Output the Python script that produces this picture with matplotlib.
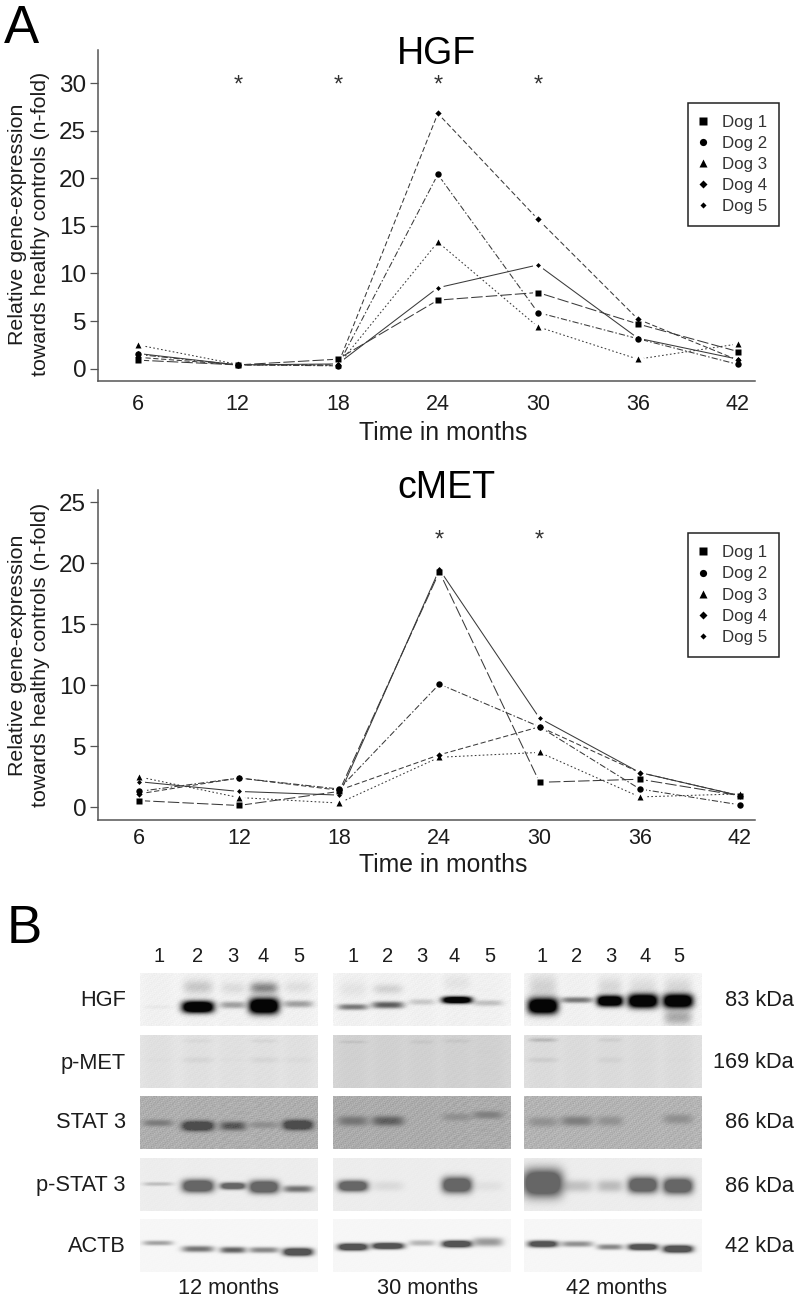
import numpy as np
import matplotlib
matplotlib.use("Agg")
import matplotlib.pyplot as plt
from matplotlib.lines import Line2D

W, H = 799, 1304
plt.rcParams['font.family'] = ['Liberation Sans', 'DejaVu Sans']

months = [6, 12, 18, 24, 30, 36, 42]
dogs = ["Dog 1", "Dog 2", "Dog 3", "Dog 4", "Dog 5"]

hgf_dog1 = [0.9, 0.4, 1.0, 7.2, 8.0, 4.7, 1.8]
hgf_dog2 = [1.5, 0.4, 0.3, 20.4, 5.9, 3.15, 0.45]
hgf_dog3 = [2.5, 0.45, 0.35, 13.3, 4.4, 1.0, 2.6]
hgf_dog4 = [1.2, 0.4, 0.4, 26.8, 15.7, 5.2, 0.9]
hgf_dog5 = [1.6, 0.4, 0.5, 8.5, 10.9, 3.2, 1.0]
hgf_stars = [12, 18, 24, 30]

met_dog1 = [0.55, 0.15, 1.3, 19.3, 2.05, 2.3, 0.95]
met_dog2 = [1.3, 2.4, 1.5, 10.1, 6.6, 1.5, 0.2]
met_dog3 = [2.5, 0.8, 0.35, 4.1, 4.5, 0.85, 1.1]
met_dog4 = [1.1, 2.4, 1.4, 4.3, 6.6, 2.85, 0.95]
met_dog5 = [2.1, 1.3, 1.0, 19.5, 7.3, 2.85, 0.95]
met_stars = [24, 30]

styles = [
    dict(marker='s', ms=5.0, ls=(0, (11, 3))),
    dict(marker='o', ms=4.6, ls=(0, (6, 2, 1.5, 2))),
    dict(marker='^', ms=5.0, ls=(0, (1.6, 2.2))),
    dict(marker='D', ms=3.2, ls=(0, (5, 2.5))),
    dict(marker='D', ms=2.5, ls='-'),
]

fig = plt.figure(figsize=(W / 100, H / 100), dpi=100)


def rect(l, t, r, b):
    return [l / W, 1 - b / H, (r - l) / W, (b - t) / H]


def txt(x, y, s, **kw):
    kw.setdefault('color', '#1c1c1c')
    return fig.text(x / W, 1 - y / H, s, **kw)


def line_panel(series, stars, star_y, l, t, r, b, x6, x42, y0, ppu, yticks,
               title, title_x, title_base, legend_top, legend_pad, label_cy, xtick_y, xlabel_y):
    ax = fig.add_axes(rect(l, t, r, b))
    ppx = (x42 - x6) / 36
    ax.set_xlim(6 - (x6 - l) / ppx, 42 + (r - x42) / ppx)
    ax.set_ylim(-(b - y0) / ppu, (y0 - t) / ppu)
    for vals, st in zip(series, styles):
        ax.plot(months, vals, color='#3a3a3a', lw=0.75, ls=st['ls'], zorder=2)
    for vals in series:
        ax.plot(months, vals, ls='none', marker='o', ms=8.0, mfc='white', mec='none', zorder=3)
    for vals, st in zip(series, styles):
        ax.plot(months, vals, ls='none', marker=st['marker'], ms=st['ms'], color='black', mec='none', zorder=4)
    for m in stars:
        ax.text(m, star_y, '*', ha='center', va='center', fontsize=17, color='#333333')
    for s in ('top', 'right'):
        ax.spines[s].set_visible(False)
    for s in ('left', 'bottom'):
        ax.spines[s].set_color('#555555')
        ax.spines[s].set_linewidth(1.1)
    ax.set_yticks(yticks)
    ax.set_xticks(months)
    ax.tick_params(axis='y', length=5.5, width=0.9, color='#555555', labelsize=17.5, pad=3, labelcolor='#1c1c1c')
    ax.tick_params(axis='x', length=0, labelbottom=False)
    for m in months:
        px = x6 + (m - 6) * ppx
        txt(px, xtick_y, str(m), fontsize=15.5, ha='center', va='center')
    txt((l + r) / 2 + 17, xlabel_y, 'Time in months', fontsize=17.8, ha='center', va='center')
    txt(title_x, title_base, title, fontsize=27, ha='center', va='baseline', color='black')
    txt(29, label_cy, 'Relative gene-expression\ntowards healthy controls (n-fold)', fontsize=15.4,
        rotation=90, ha='center', va='center', multialignment='center', linespacing=1.27)
    handles = [Line2D([], [], ls='none', marker=st['marker'], ms=st['ms'] + 0.6, color='black', mec='none')
               for st in styles]
    leg = fig.legend(handles, dogs, loc='upper left', bbox_to_anchor=(688 / W, 1 - legend_top / H),
                     fontsize=12.2, frameon=True, fancybox=False, framealpha=1, edgecolor='#222222',
                     labelspacing=legend_pad, borderpad=0.72, handlelength=0.33, handletextpad=0.95, borderaxespad=0)
    leg.get_frame().set_linewidth(1.1)
    for t_ in leg.get_texts():
        t_.set_color('#333333')
    return ax


line_panel([hgf_dog1, hgf_dog2, hgf_dog3, hgf_dog4, hgf_dog5], hgf_stars, 29.75,
           98, 50, 755, 381, 137.7, 738, 368.7, 9.523, [0, 5, 10, 15, 20, 25, 30],
           'HGF', 437, 64, 103, 0.35, 224, 404, 433)
line_panel([met_dog1, met_dog2, met_dog3, met_dog4, met_dog5], met_stars, 21.9,
           98, 490, 755, 820, 138.7, 740, 807.3, 12.2, [0, 5, 10, 15, 20, 25],
           'cMET', 446, 498, 533, 0.37, 655, 839, 865)

txt(4, 43, 'A', fontsize=38, ha='left', va='baseline', color='black')
txt(7, 943, 'B', fontsize=38, ha='left', va='baseline', color='black')

# ---- western blot panel ----
proteins = ["HGF", "p-MET", "STAT 3", "p-STAT 3", "ACTB"]
weights = ["83 kDa", "169 kDa", "86 kDa", "86 kDa", "42 kDa"]
timepoints = ["12 months", "30 months", "42 months"]
lanes = ["1", "2", "3", "4", "5"]

# band strength per protein, per time panel, per lane
band_hgf = [[0.03, 1.0, 0.3, 1.0, 0.3], [0.45, 0.55, 0.15, 0.95, 0.18], [1.0, 0.45, 1.0, 1.0, 1.0]]
band_pmet = [[0.05, 0.22, 0.07, 0.22, 0.12], [0.03, 0.0, 0.0, 0.0, 0.0], [0.35, 0.0, 0.22, 0.03, 0.04]]
band_stat = [[0.45, 1.0, 0.8, 0.28, 1.0], [0.5, 0.7, 0.0, 0.25, 0.4], [0.28, 0.45, 0.28, 0.0, 0.3]]
band_pstat = [[0.3, 1.0, 0.9, 1.0, 0.8], [1.0, 0.12, 0.0, 1.0, 0.08], [1.0, 0.28, 0.32, 1.0, 1.0]]
band_actb = [[0.45, 0.7, 0.8, 0.6, 1.0], [1.0, 1.0, 0.35, 1.0, 0.5], [0.9, 0.55, 0.6, 0.95, 1.0]]
bands = [band_hgf, band_pmet, band_stat, band_pstat, band_actb]

# band half thickness (px) per protein, per time panel, per lane
thick = [
    [[2, 6, 3.5, 8, 3.5], [3, 3.5, 3, 3.5, 3], [8, 3, 5.5, 7, 7]],
    [[2, 3, 2, 3, 3], [2, 2, 2, 2, 2], [2.5, 2, 3, 2, 2]],
    [[3.5, 5, 4.5, 3.5, 5], [5, 5, 3, 4, 4], [5, 5, 5, 3, 5]],
    [[2, 6.5, 3.5, 6.5, 3.5], [5.5, 5, 2, 8, 5], [14, 6, 6, 8, 8]],
    [[2.5, 3.2, 3.2, 3, 4], [3.6, 3.2, 3, 3.5, 4.5], [3.4, 3, 2.9, 3.3, 3.8]],
]
# band centre below the top of the row (px) per protein, per time panel, per lane
centre = [
    [[34, 34, 32, 33, 31], [34, 32, 29, 27, 30], [33, 27, 28, 28, 28]],
    [[25, 25, 25, 25, 25], [25, 25, 25, 25, 25], [25, 25, 25, 25, 25]],
    [[27, 30, 30, 29, 29], [25, 25, 25, 21, 19], [26, 25, 25, 25, 23]],
    [[26, 28, 28, 29, 31], [28, 28, 28, 27, 28], [25, 28, 28, 27, 28]],
    [[24, 30, 31, 31, 33], [28, 27, 24, 25, 23], [25, 25, 28, 28, 30]],
]
# faint extra smears: protein, time panel, lane, centre, half height, strength
smears = [
    (0, 0, 1, 14, 7, 0.16), (0, 0, 2, 15, 6, 0.08), (0, 0, 3, 15, 6, 0.42), (0, 0, 4, 14, 6, 0.07),
    (0, 1, 1, 16, 5, 0.12), (0, 1, 0, 16, 8, 0.05), (0, 1, 3, 10, 8, 0.05),
    (0, 2, 0, 14, 12, 0.12), (0, 2, 2, 14, 9, 0.10), (0, 2, 3, 14, 9, 0.08), (0, 2, 4, 44, 8, 0.28), (0, 2, 4, 14, 9, 0.10),
    (1, 1, 0, 7, 1.5, 0.06), (1, 1, 2, 7, 2, 0.04), (1, 1, 3, 6, 2, 0.04),
    (1, 2, 0, 5, 2, 0.14), (1, 2, 2, 5, 2, 0.05), (1, 0, 3, 6, 2, 0.04), (1, 0, 1, 6, 2, 0.03),
]
backgrounds = [0.955, 0.885, 0.68, 0.93, 0.965]
peaks = [0.02, 0.72, 0.30, 0.40, 0.33]
panel_bg_shift = [[0.0, 0.0, 0.0], [0.01, -0.05, -0.01], [0.01, 0.0, 0.03], [0.0, 0.0, 0.0], [0.0, 0.0, 0.0]]

panel_x = [(140, 318), (333, 511), (524, 702)]
row_top = [973, 1035, 1096, 1158, 1219]
row_h = 53
lane_x = [[158, 198, 233, 264, 298], [353, 388, 422, 457, 488], [543, 577, 610, 643, 678]]
lane_half = [14, 15, 12, 14, 14]
grain = [0.005, 0.004, 0.014, 0.002, 0.001]
lane_shade = [0.015, 0.02, 0.008, 0.004, 0.0]
label_y = [1000, 1063, 1123, 1186, 1247]
lane_label_x = [[159, 198, 233, 263, 299], [353, 388, 422, 454, 490], [542, 577, 611, 645, 679]]
timepoint_x = [229, 428, 617]


def grain_field(xx, yy):
    return (np.sin(xx * 2.31 + yy * 1.73) + np.sin(xx * 1.13 - yy * 2.97 + 1.0)
            + np.sin(xx * 3.71 + yy * 0.61 + 2.0) + np.sin(yy * 3.37 - xx * 0.43)
            + np.sin(xx * 0.71 + yy * 0.93 + 0.5) + np.sin(xx * xx * 0.013 + yy * yy * 0.37))


for r, top in enumerate(row_top):
    for p, (x0, x1) in enumerate(panel_x):
        ys, xs = np.mgrid[0:row_h, x0:x1]
        xs = xs + 0.5
        ys = ys + 0.5
        bg = backgrounds[r] + panel_bg_shift[r][p]
        g = grain_field(xs, ys)
        img = np.full(xs.shape, bg, dtype=float)
        img = img + grain[r] * g
        for lx in lane_x[p]:
            img -= lane_shade[r] * np.exp(-np.abs((xs - lx) / 15.0) ** 4)
        for (rr, pp, k, cy, h, s) in smears:
            if rr == r and pp == p:
                pr = np.exp(-np.abs((xs - lane_x[p][k]) / lane_half[k]) ** 4) * np.exp(-((ys - cy) / h) ** 2)
                img -= s * pr
        for k, lx in enumerate(lane_x[p]):
            s = bands[r][p][k]
            h = thick[r][p][k]
            w = 19 if h > 10 else lane_half[k]
            cy = centre[r][p][k]
            prof = np.exp(-np.abs((xs - lx) / (w + 1.0)) ** 4) * np.exp(-np.abs((ys - cy) / h) ** 2.4)
            depth = s * 1.6 * prof * (1 + 0.04 * g * (r == 2))
            depth = np.minimum(depth, 1.0) if s >= 0.9 else depth * 0.72
            img = img - (img - peaks[r]) * np.clip(depth, 0, 1)
        ax = fig.add_axes(rect(x0, top, x1, top + row_h))
        ax.imshow(img, cmap='gray', vmin=0, vmax=1, aspect='auto', interpolation='bilinear')
        ax.axis('off')
    txt(126, label_y[r], proteins[r], fontsize=15.7, ha='right', va='center')
    txt(794, label_y[r], weights[r], fontsize=15.7, ha='right', va='center')

for p in range(3):
    for k, lab in enumerate(lanes):
        txt(lane_label_x[p][k], 957, lab, fontsize=14.5, ha='center', va='center')
    txt(timepoint_x[p], 1288, timepoints[p], fontsize=15.7, ha='center', va='center')

fig.savefig('out.png', dpi=100)
